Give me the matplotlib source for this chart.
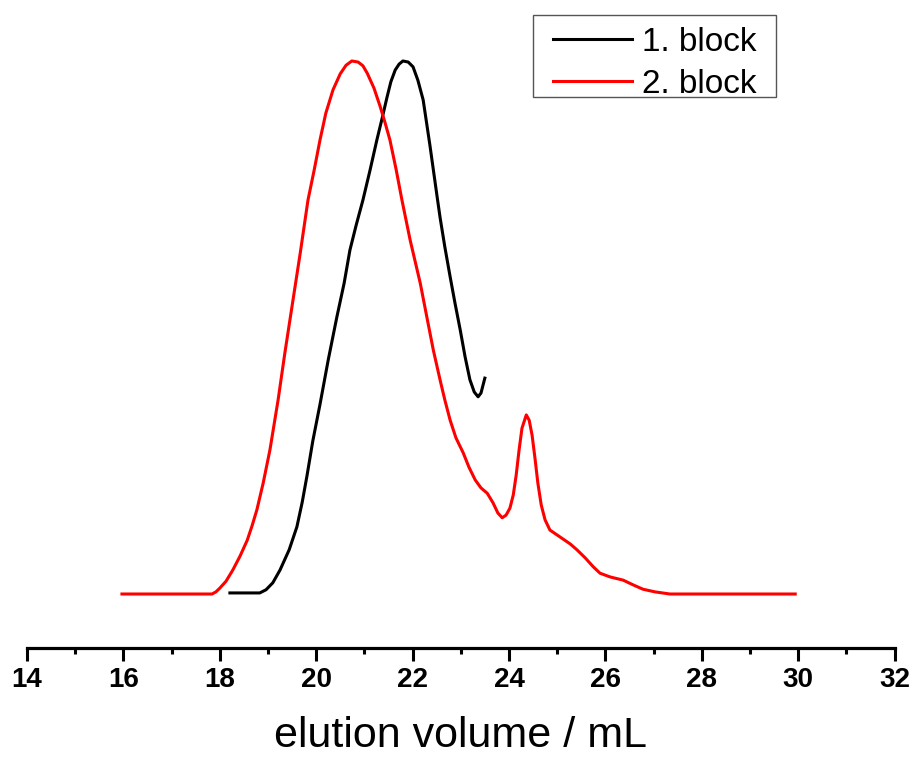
import numpy as np
import matplotlib.pyplot as plt
from matplotlib.patches import Rectangle
from matplotlib.ticker import MultipleLocator

# elution traces (normalised detector signal)
block1_vol = [18.21, 18.83, 18.96, 19.10, 19.25, 19.44, 19.60, 19.71, 19.81, 19.93,
              20.08, 20.25, 20.43, 20.58, 20.70, 20.83, 20.97, 21.12, 21.26, 21.37,
              21.47, 21.55, 21.64, 21.72, 21.80, 21.91, 22.01, 22.11, 22.22, 22.36,
              22.51, 22.57, 22.67, 22.78, 22.88, 22.99, 23.09, 23.19, 23.28, 23.36,
              23.42, 23.50]
block1_sig = [0.002, 0.002, 0.008, 0.021, 0.045, 0.083, 0.126, 0.172, 0.222, 0.287,
              0.356, 0.439, 0.520, 0.583, 0.645, 0.692, 0.739, 0.796, 0.852, 0.893,
              0.932, 0.961, 0.983, 0.994, 1.0, 0.998, 0.989, 0.964, 0.927, 0.842,
              0.745, 0.707, 0.651, 0.595, 0.546, 0.495, 0.445, 0.402, 0.379, 0.370,
              0.377, 0.405]

block2_vol = [15.97, 17.84, 17.92, 18.00, 18.13, 18.27, 18.42, 18.57, 18.67, 18.77,
              18.90, 19.04, 19.21, 19.35, 19.52, 19.67, 19.83, 19.96, 20.08, 20.20,
              20.35, 20.50, 20.62, 20.74, 20.87, 20.97, 21.06, 21.20, 21.33, 21.43,
              21.53, 21.66, 21.78, 21.95, 22.16, 22.30, 22.43, 22.57, 22.67, 22.78,
              22.90, 23.05, 23.17, 23.30, 23.42, 23.55, 23.67, 23.77, 23.86, 23.94,
              24.02, 24.09, 24.15, 24.21, 24.27, 24.36, 24.42, 24.48, 24.54, 24.60,
              24.67, 24.75, 24.85, 25.06, 25.27, 25.41, 25.58, 25.75, 25.89, 26.10,
              26.37, 26.58, 26.78, 27.03, 27.34, 29.94]
block2_sig = [0.0, 0.0, 0.004, 0.011, 0.024, 0.045, 0.071, 0.101, 0.128, 0.158,
              0.208, 0.270, 0.364, 0.452, 0.552, 0.640, 0.739, 0.796, 0.852, 0.902,
              0.946, 0.976, 0.992, 1.0, 0.998, 0.991, 0.977, 0.949, 0.914, 0.884,
              0.852, 0.796, 0.739, 0.664, 0.583, 0.518, 0.458, 0.402, 0.364, 0.326,
              0.293, 0.265, 0.238, 0.214, 0.199, 0.189, 0.171, 0.152, 0.143, 0.148,
              0.161, 0.186, 0.223, 0.270, 0.311, 0.336, 0.326, 0.298, 0.255, 0.208,
              0.167, 0.139, 0.120, 0.107, 0.094, 0.083, 0.068, 0.051, 0.039, 0.032,
              0.026, 0.017, 0.009, 0.004, 0.0, 0.0]

plt.rcParams['font.family'] = ['Liberation Sans', 'DejaVu Sans']

fig = plt.figure(figsize=(9.13, 7.6), dpi=100)
ax = fig.add_axes([27 / 913, 112 / 760, 867.5 / 913, 648 / 760])

ax.plot(block1_vol, block1_sig, color='black', lw=2.2, label='1. block',
        solid_joinstyle='round')
ax.plot(block2_vol, block2_sig, color='red', lw=2.2, label='2. block',
        solid_joinstyle='round')

ax.set_xlim(14, 32)
ax.set_ylim(-0.1013, 1.1144)
ax.xaxis.set_major_locator(MultipleLocator(2))
ax.xaxis.set_minor_locator(MultipleLocator(1))
ax.set_yticks([])
for s in ['top', 'left', 'right']:
    ax.spines[s].set_visible(False)
ax.spines['bottom'].set_linewidth(2.3)
ax.tick_params(axis='x', which='major', direction='out', length=9, width=2.2, pad=5,
               labelsize=20)
ax.tick_params(axis='x', which='minor', direction='out', length=4.5, width=2.2)
for t in ax.get_xticklabels():
    t.set_fontweight('bold')
ax.set_xlabel('elution volume / mL', fontsize=31, labelpad=16)

# legend box drawn separately so the padding can be set per side
fig.patches.append(Rectangle((533 / 913, 1 - 97 / 760), 243 / 913, 82 / 760,
                             transform=fig.transFigure, fill=False,
                             edgecolor='#555555', lw=1.0))
leg = ax.legend(loc='upper left', bbox_to_anchor=(553 / 913, 1 - 27 / 760),
                bbox_transform=fig.transFigure, fontsize=24, frameon=False,
                handlelength=2.36, handletextpad=0.3, labelspacing=0.33,
                borderpad=0, borderaxespad=0)

fig.savefig('out.png', dpi=100)
